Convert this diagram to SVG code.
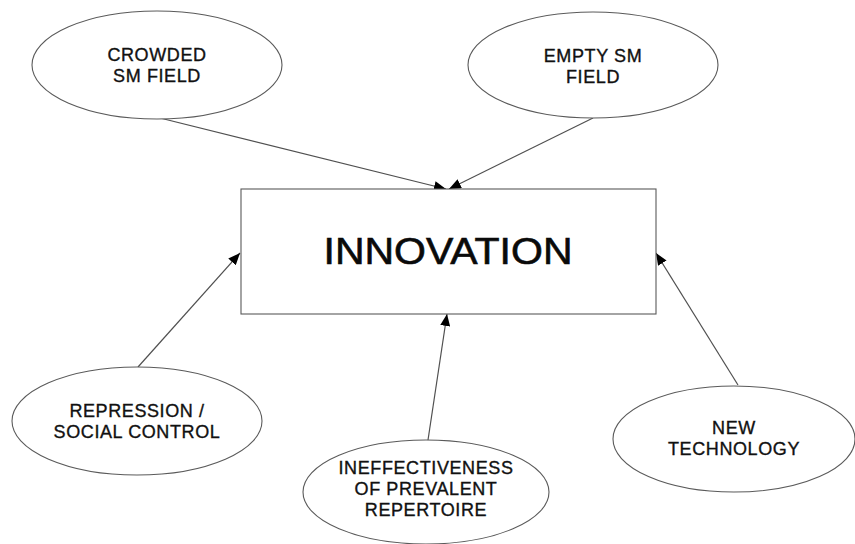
<svg xmlns="http://www.w3.org/2000/svg" width="855" height="544" viewBox="0 0 855 544">
  <style>
    .node { fill: #ffffff; stroke: #5a5a5a; stroke-width: 1.1; }
    .label { font-family: "Liberation Sans", Arial, sans-serif; font-size: 18px; letter-spacing: 0.6px; fill: #111111; stroke: #111111; stroke-width: 0.35; text-anchor: middle; }
    .title { font-family: "Liberation Sans", Arial, sans-serif; font-size: 36px; fill: #0a0a0a; stroke: #0a0a0a; stroke-width: 0.6; text-anchor: middle; }
    .edge { stroke: #505050; stroke-width: 1.2; fill: none; marker-end: url(#arrow); }
  </style>
  <defs>
    <marker id="arrow" viewBox="0 0 12 10" refX="12" refY="5" markerWidth="12" markerHeight="10" markerUnits="userSpaceOnUse" orient="auto">
      <path d="M0,0 L12,5 L0,10 z" fill="#000000"/>
    </marker>
  </defs>
  <rect width="855" height="544" fill="#ffffff"/>

  <g id="connectors">
    <line class="edge" x1="160" y1="118" x2="446" y2="189"/>
    <line class="edge" x1="593" y1="118" x2="449" y2="189"/>
    <line class="edge" x1="138" y1="367" x2="240" y2="253"/>
    <line class="edge" x1="428" y1="440" x2="447" y2="314"/>
    <line class="edge" x1="738" y1="385" x2="656" y2="253"/>
  </g>

  <g id="innovation">
    <rect class="node" x="241" y="189" width="415" height="125"/>
    <text class="title" x="448" y="264" textLength="249" lengthAdjust="spacingAndGlyphs">INNOVATION</text>
  </g>

  <g id="crowded-field">
    <ellipse class="node" cx="157" cy="65" rx="125" ry="54"/>
    <text class="label" x="157" y="61">CROWDED</text>
    <text class="label" x="157" y="82">SM FIELD</text>
  </g>

  <g id="empty-field">
    <ellipse class="node" cx="593" cy="65" rx="125" ry="53"/>
    <text class="label" x="593" y="62">EMPTY SM</text>
    <text class="label" x="593" y="83">FIELD</text>
  </g>

  <g id="repression">
    <ellipse class="node" cx="137" cy="421" rx="125" ry="54"/>
    <text class="label" x="137" y="417">REPRESSION /</text>
    <text class="label" x="137" y="438">SOCIAL CONTROL</text>
  </g>

  <g id="ineffectiveness">
    <ellipse class="node" cx="426" cy="492" rx="123" ry="52"/>
    <text class="label" x="426" y="474">INEFFECTIVENESS</text>
    <text class="label" x="426" y="495">OF PREVALENT</text>
    <text class="label" x="426" y="516">REPERTOIRE</text>
  </g>

  <g id="new-technology">
    <ellipse class="node" cx="734" cy="439" rx="121" ry="53"/>
    <text class="label" x="734" y="434">NEW</text>
    <text class="label" x="734" y="455">TECHNOLOGY</text>
  </g>
</svg>
